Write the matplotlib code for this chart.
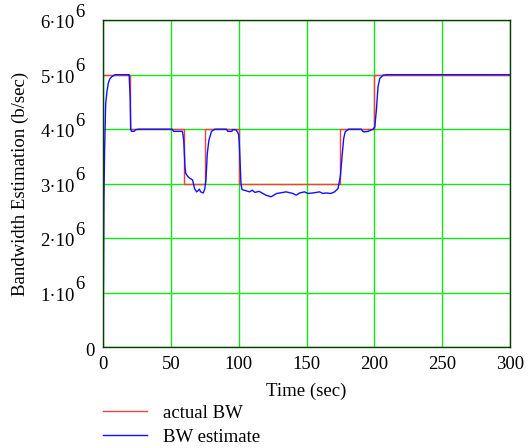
"""Bandwidth estimate vs actual bandwidth over time."""

import matplotlib

matplotlib.use("Agg")
import matplotlib.pyplot as plt
import numpy as np

# actual link bandwidth (step changes, b/sec)
actual_t = [0, 20, 60, 75, 100, 175, 200, 300]
actual_bw = [5e6, 4e6, 3e6, 4e6, 3e6, 4e6, 5e6, 5e6]

# estimator output (time sec, value in 1e6 b/sec)
est_t = [
    0, 0.3, 0.7, 1.2, 2.0, 3.0, 3.9, 5.0, 6.4, 9, 19.3, 20.0, 20.5, 21, 23, 24, 26.6,
    51, 52, 58.6, 59.5, 60.5, 61, 62.6, 64, 66, 67.5, 69, 70, 71, 72, 73.9, 75, 75.9,
    76.9, 78.1, 80, 82.5, 91, 92, 95, 95.5, 98, 99, 100, 100.5, 101.7, 102.5, 104.2,
    108, 110, 112, 115, 120, 123.9, 128, 135, 140, 142.4, 145, 148.5, 151, 154.7,
    159.6, 162, 164.5, 168, 170.7, 173.2, 174.9, 176.2, 177.4, 178.5, 179.4, 181,
    190.4, 191.5, 192.4, 195.4, 197, 199, 200.3, 201.5, 202.7, 204, 206.4, 209, 300,
]
est_bw = [
    0, 1.0, 2.7, 3.6, 4.47, 4.7, 4.84, 4.92, 4.96, 5.0, 5.0, 4.6, 4.0, 3.96, 3.96, 3.99, 4.0,
    4.0, 3.96, 3.96, 3.8, 3.3, 3.19, 3.13, 3.10, 3.07, 2.91, 2.85, 2.87, 2.90, 2.85, 2.83, 2.9, 3.07,
    3.56, 3.80, 3.96, 4.0, 4.0, 3.96, 3.96, 3.99, 3.99, 3.95, 3.9, 3.74, 3.0, 2.89, 2.88,
    2.85, 2.88, 2.84, 2.86, 2.79, 2.76, 2.82, 2.85, 2.82, 2.79, 2.83, 2.85, 2.82, 2.83,
    2.85, 2.82, 2.83, 2.82, 2.85, 2.91, 3.13, 3.5, 3.83, 3.95, 3.97, 4.0,
    4.0, 3.96, 3.95, 3.96, 3.98, 4.0, 4.04, 4.35, 4.78, 4.93, 4.99, 5.0, 5.0,
]

x_ticks = [0, 50, 100, 150, 200, 250, 300]
y_ticks = [0, 1e6, 2e6, 3e6, 4e6, 5e6, 6e6]
y_mantissa = ["0", "1", "2", "3", "4", "5", "6"]

FS = 13.5
plt.rcParams["font.family"] = "Liberation Serif"

fig = plt.figure(figsize=(5.28, 4.48), dpi=100)
ax = fig.add_axes([0.195, 0.225, 0.771, 0.73])

ax.grid(True, color="#10e810", linewidth=1.0)
ax.set_axisbelow(True)
(red_line,) = ax.plot(actual_t, actual_bw, drawstyle="steps-post", color="#f04040",
                      linewidth=1.0, label="actual BW")
(blue_line,) = ax.plot(est_t, np.array(est_bw) * 1e6, color="#1010ff",
                       linewidth=1.0, label="BW estimate")

ax.set_xlim(0, 300)
ax.set_ylim(0, 6e6)
ax.set_xticks(x_ticks)
ax.set_xticklabels([str(t) for t in x_ticks])
ax.set_yticks(y_ticks)
ax.set_yticklabels([])
ax.tick_params(length=0, labelsize=FS, pad=6)
for spine in ax.spines.values():
    spine.set_color("#0a3a0a")
    spine.set_linewidth(1.0)

# y tick labels in "k·10^6" style with a full-size exponent
for val, k in zip(y_ticks, y_mantissa):
    if val == 0:
        ax.annotate("0", xy=(0, val), xycoords=("axes fraction", "data"),
                    xytext=(-5.8, -6.5), textcoords="offset points",
                    ha="right", va="baseline", fontsize=FS)
        continue
    ax.annotate(f"{k}\u00b710", xy=(0, val), xycoords=("axes fraction", "data"),
                xytext=(-20.3, -5.8), textcoords="offset points",
                ha="right", va="baseline", fontsize=FS)
    ax.annotate("6", xy=(0, val), xycoords=("axes fraction", "data"),
                xytext=(-20.0, 2.3), textcoords="offset points",
                ha="left", va="baseline", fontsize=FS)

ax.set_xlabel("Time (sec)", fontsize=FS, labelpad=7)
ax.set_ylabel("Bandwidth Estimation (b/sec)", fontsize=FS, labelpad=47)

fig.legend(handles=[red_line, blue_line], loc="upper left",
           bbox_to_anchor=(0.177, 0.118), frameon=False, fontsize=FS,
           handlelength=2.35, handletextpad=0.85, labelspacing=0.37, borderpad=0.0)

fig.savefig("out.png", dpi=100)
